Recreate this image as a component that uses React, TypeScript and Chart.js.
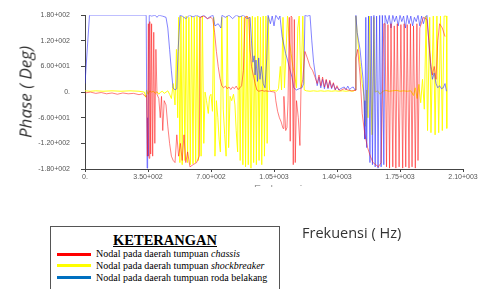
import React, { useEffect, useRef } from "react";
import { Chart, registerables } from "chart.js";
Chart.register(...registerables);

const xTickValues = [0, 350, 700, 1050, 1400, 1750, 2100];
const xTickLabels = ["0.", "3.50+002", "7.00+002", "1.05+003", "1.40+003", "1.75+003", "2.10+003"];
const yTickValues = [-180, -120, -60, 0, 60, 120, 180];
const yTickLabels = ["-1.80+002", "-1.20+002", "-6.00+001", "0.", "6.00+001", "1.20+002", "1.80+002"];

// [frequency Hz, phase deg]
const blueSeries: number[][] = [
  [0, 20], [25, 180], [100, 180], [200, 180], [300, 180], [340, 180], [345, -178], [348, -60], [352, -150], [357, 180],
  [370, 178], [390, 180], [400, 175], [410, 180], [430, 178], [450, 175], [460, 150], [470, 100], [480, 50], [489, 10],
  [500, 5], [510, 8], [517, 95], [528, 180], [540, 178], [560, 172], [580, 180], [600, 176], [620, 180], [640, 175],
  [660, 180], [680, 172], [700, 178], [711, 180], [722, 155], [740, 160], [755, 150], [761, 180], [780, 175], [800, 180],
  [820, 172], [840, 180], [860, 176], [880, 180], [900, 172], [917, 175], [925, 120], [933, 70], [940, 85], [945, 40],
  [950, 75], [958, 25], [965, 80], [972, 30], [980, 60], [990, 20], [1000, 10], [1010, 80], [1017, 180], [1030, 160],
  [1040, 178], [1050, 155], [1060, 180], [1075, 170], [1083, 178], [1095, 130], [1105, 110], [1115, 90], [1125, 75],
  [1140, 50], [1150, 35], [1160, 10], [1175, 5], [1190, 8], [1205, 10], [1215, 20], [1222, 180], [1235, 178], [1250, 180],
  [1260, 120], [1270, 70], [1280, 40], [1290, 15], [1300, 35], [1310, 10], [1320, 30], [1330, 8], [1340, 28], [1350, 8],
  [1360, 25], [1370, 8], [1380, 20], [1390, 5], [1400, 12], [1410, 5], [1420, 8], [1440, 12], [1450, 6], [1460, 14],
  [1470, 6], [1480, 10], [1490, 12], [1500, 5], [1505, 180], [1512, 140], [1520, 120], [1528, 100], [1535, 70], [1545, 30],
  [1550, -20], [1555, -110], [1560, 175], [1565, -130], [1575, 178], [1583, -165], [1590, 178], [1597, -170], [1605, 180],
  [1612, -175], [1620, 178], [1628, -178], [1637, 180], [1645, -175], [1652, 180], [1660, -170], [1667, 180], [1680, 160],
  [1690, 180], [1700, 150], [1710, 180], [1720, 165], [1730, 178], [1740, 155], [1750, 180], [1760, 165], [1770, 178],
  [1780, 150], [1790, 180], [1800, 160], [1810, 178], [1820, 155], [1830, 175], [1840, 165], [1850, 180], [1860, 155],
  [1870, 178], [1880, 160], [1890, 175], [1900, 180], [1910, 120], [1920, 60], [1930, 30], [1940, 45], [1950, 20],
  [1960, 10], [1970, 15], [1980, 8], [1990, 10], [2000, 20], [2008, 2],
];

const redSeries: number[][] = [
  [0, -2], [30, 0], [60, -3], [90, -1], [120, -4], [150, -2], [180, -5], [210, -2], [240, -4], [270, -3], [300, -6],
  [320, -4], [335, -10], [342, -8], [347, -150], [352, 160], [356, -155], [360, 165], [365, -145], [370, 160], [376, -150],
  [382, 140], [388, -120], [394, 100], [400, -5], [410, -15], [418, -60], [425, -10], [432, -90], [440, -20], [450, -30],
  [460, -80], [470, -120], [480, -150], [490, -160], [500, -165], [510, -100], [520, -150], [530, -120], [540, -160],
  [550, -100], [560, -165], [570, -140], [583, -175], [600, -170], [620, -165], [635, -150], [640, 175], [660, 178],
  [680, 172], [700, 175], [710, 170], [720, 140], [730, 95], [740, 60], [750, 32], [760, 15], [770, 10], [780, 14],
  [790, 8], [800, 12], [810, 6], [820, 12], [830, 8], [840, 14], [850, 6], [861, 10], [870, 15], [880, 50], [889, 175],
  [900, 178], [910, 170], [917, 100], [925, 60], [935, 40], [945, 20], [955, 5], [965, 2], [975, 3], [985, 4], [995, 2],
  [1005, 3], [1015, 2], [1025, 2], [1040, 1], [1055, 0], [1060, -20], [1070, -45], [1080, -60], [1090, -70], [1100, -85],
  [1105, -10], [1115, -90], [1122, -83], [1128, -20], [1135, 175], [1140, -115], [1145, 178], [1150, 175], [1157, -170],
  [1163, 170], [1168, -165], [1175, -20], [1185, -60], [1194, -125], [1200, 10], [1210, 30], [1222, 95], [1235, 80],
  [1250, 60], [1265, 50], [1278, 35], [1290, 20], [1300, 40], [1310, 15], [1320, 35], [1330, 12], [1340, 30], [1350, 10],
  [1360, 28], [1370, 10], [1380, 22], [1390, 6], [1400, 15], [1410, 5], [1420, 4], [1440, 8], [1460, 5], [1480, 3],
  [1500, 4], [1505, 80], [1515, 100], [1528, 40], [1540, -50], [1555, -100], [1570, -130], [1585, -150], [1600, -165],
  [1615, -170], [1630, -175], [1645, -165], [1660, 160], [1667, 160], [1675, -175], [1683, 158], [1692, -178], [1700, 160],
  [1710, -175], [1718, 155], [1727, -178], [1735, 160], [1745, -175], [1755, 158], [1765, -178], [1773, 160], [1782, -175],
  [1790, 158], [1800, -178], [1808, 160], [1817, -175], [1825, 155], [1835, -178], [1844, 160], [1850, -160], [1860, 150],
  [1880, 175], [1900, 170], [1910, 120], [1920, 70], [1930, 40], [1940, 60], [1950, 30], [1960, 120], [1970, 160],
  [1985, 150], [2000, 130],
];

const yellowSeries: number[][] = [
  [0, 3], [30, 2], [60, 3], [100, 2], [150, 3], [200, 2], [250, 3], [300, 2], [330, 0], [338, -12], [342, 5], [350, -5],
  [360, 3], [370, 0], [380, 2], [390, -3], [400, 1], [410, -5], [420, 0], [430, 2], [440, -3], [450, 0], [460, 3],
  [470, -5], [480, -15], [490, 20], [500, -30], [508, 100], [515, -60], [520, 175], [527, -165], [533, 178], [540, -170],
  [547, 175], [555, -160], [562, 178], [570, -165], [577, 175], [585, -170], [592, 178], [600, -168], [607, 175],
  [615, -165], [622, 178], [630, -160], [637, 175], [645, -150], [652, 178], [660, -120], [667, 0], [675, -20], [685, -50],
  [692, -10], [700, -5], [708, -45], [715, 175], [722, -150], [730, -20], [738, -60], [745, -110], [752, -140], [760, 175],
  [768, -40], [776, -100], [784, -150], [790, 178], [798, -130], [806, -10], [815, -20], [825, -5], [833, -30], [840, -90],
  [848, -140], [855, 178], [862, -160], [870, 178], [877, -170], [885, 175], [892, -175], [900, 178], [907, -170],
  [915, 175], [922, -178], [930, 178], [937, -165], [945, 175], [952, -170], [960, 178], [967, -160], [975, 175],
  [982, -170], [990, 178], [997, -150], [1005, 178], [1012, -120], [1018, 175], [1025, 5], [1035, 3], [1050, 4], [1065, 2],
  [1075, 8], [1085, 60], [1092, 5], [1100, 175], [1108, 10], [1125, 178], [1135, 120], [1145, 90], [1155, 60], [1165, 40],
  [1175, 10], [1182, 150], [1190, 178], [1200, 10], [1210, 178], [1218, 5], [1230, 3], [1250, 2], [1270, 3], [1290, 2],
  [1310, 3], [1330, 2], [1350, 3], [1370, 2], [1390, 3], [1410, 2], [1430, 3], [1450, 2], [1470, 3], [1490, 2], [1500, 5],
  [1505, 178], [1512, 140], [1520, 100], [1530, 60], [1540, 20], [1550, -10], [1558, -80], [1565, 5], [1572, -60],
  [1580, 178], [1588, 5], [1595, -100], [1605, 175], [1612, 0], [1625, 3], [1640, -5], [1655, 2], [1670, 4], [1690, 2],
  [1710, 3], [1730, 4], [1750, 2], [1770, 3], [1790, 2], [1810, 3], [1825, -8], [1835, 10], [1845, -15], [1855, 18],
  [1865, -25], [1875, 30], [1885, -40], [1895, 178], [1903, -90], [1915, 175], [1922, -95], [1935, 178], [1945, -100],
  [1955, 178], [1965, -95], [1975, 178], [1985, -90], [1995, 178], [2008, 178], [2010, -85],
];

const legendItems = [
  { color: "#ff0000", text: "Nodal pada daerah tumpuan ", em: "chassis" },
  { color: "#ffff00", text: "Nodal pada daerah tumpuan ", em: "shockbreaker" },
  { color: "#0070c0", text: "Nodal pada daerah tumpuan roda belakang", em: "" },
];

const toPts = (s: number[][]) => s.map(([x, y]) => ({ x, y }));

export default function App() {
  const ref = useRef<HTMLCanvasElement>(null);
  useEffect(() => {
    document.body.style.margin = "0";
    const canvas = ref.current!;
    const chart = new Chart(canvas, {
      type: "line",
      data: {
        datasets: [
          { label: "chassis", data: toPts(redSeries), borderColor: "rgba(255,20,20,0.55)", borderWidth: 1, pointRadius: 0, tension: 0, order: 1 },
          { label: "roda belakang", data: toPts(blueSeries), borderColor: "rgba(50,50,255,0.6)", borderWidth: 1, pointRadius: 0, tension: 0, order: 2 },
          { label: "shockbreaker", data: toPts(yellowSeries), borderColor: "rgba(255,255,0,0.95)", borderWidth: 1, pointRadius: 0, tension: 0, order: 3 },
        ],
      },
      options: {
        responsive: false,
        animation: false,
        devicePixelRatio: 1,
        layout: { padding: { top: 13, right: 18, left: 0, bottom: 0 } },
        plugins: { legend: { display: false }, tooltip: { enabled: false } },
        scales: {
          x: {
            type: "linear",
            min: 0,
            max: 2100,
            afterBuildTicks: (s: any) => { s.ticks = xTickValues.map((v) => ({ value: v })); },
            afterFit: (s: any) => { s.height = 120; },
            ticks: {
              autoSkip: false,
              maxRotation: 0,
              padding: 1,
              color: "#555",
              font: { size: 7, family: "Liberation Sans" },
              callback: (v: any) => xTickLabels[xTickValues.indexOf(Number(v))] ?? "",
            },
            grid: { drawOnChartArea: false, tickLength: 3, color: "#444" },
            border: { color: "#444" },
          },
          y: {
            type: "linear",
            min: -180,
            max: 180,
            afterBuildTicks: (s: any) => { s.ticks = yTickValues.map((v) => ({ value: v })); },
            afterFit: (s: any) => { s.width = 85; },
            ticks: {
              autoSkip: false,
              padding: 11,
              color: "#555",
              font: { size: 7, family: "Liberation Sans" },
              callback: (v: any) => yTickLabels[yTickValues.indexOf(Number(v))] ?? "",
            },
            grid: { drawOnChartArea: false, tickLength: 4, color: "#444" },
            border: { color: "#444" },
          },
        },
      },
    });
    return () => chart.destroy();
  }, []);

  return (
    <div style={{ position: "relative", width: 481, height: 289, overflow: "hidden", background: "#fff" }}>
      <canvas ref={ref} width={481} height={289} style={{ position: "absolute", left: 0, top: 0 }} />
      <div
        style={{
          position: "absolute", left: 25, top: 92, transform: "translate(-50%,-50%) rotate(-90deg)",
          fontFamily: "'Open Sans', sans-serif", fontStyle: "italic", fontSize: 17, color: "#333", whiteSpace: "nowrap",
        }}
      >
        Phase ( Deg)
      </div>
      <div style={{ position: "absolute", left: 254, top: 184, height: 3, overflow: "hidden" }}>
        <div style={{ fontFamily: "'Liberation Sans', sans-serif", fontSize: 11, lineHeight: "11px", color: "#999", whiteSpace: "nowrap" }}>
          Frekuensi
        </div>
      </div>
      <div
        style={{
          position: "absolute", left: 302, top: 223, fontFamily: "'Open Sans', sans-serif", fontSize: 14.5,
          lineHeight: "20px", color: "#333", whiteSpace: "nowrap",
        }}
      >
        Frekuensi ( Hz)
      </div>
      <div
        style={{
          position: "absolute", left: 50, top: 226, width: 228, height: 80, border: "1px solid #555",
          background: "#fff", fontFamily: "'Liberation Serif', serif",
        }}
      >
        <div style={{ position: "absolute", left: 0, width: 228, top: 5, textAlign: "center", fontWeight: "bold", fontSize: 14.5, lineHeight: "16px", textDecoration: "underline" }}>
          KETERANGAN
        </div>
        {legendItems.map((it, i) => (
          <div key={i} style={{ position: "absolute", left: 6, top: 21 + i * 11.8, height: 12, display: "flex", alignItems: "center", whiteSpace: "nowrap" }}>
            <div style={{ width: 34, height: 3, background: it.color, marginRight: 5 }} />
            <span style={{ fontSize: 10, lineHeight: "12px" }}>
              {it.text}
              {it.em ? <i>{it.em}</i> : null}
            </span>
          </div>
        ))}
      </div>
    </div>
  );
}
